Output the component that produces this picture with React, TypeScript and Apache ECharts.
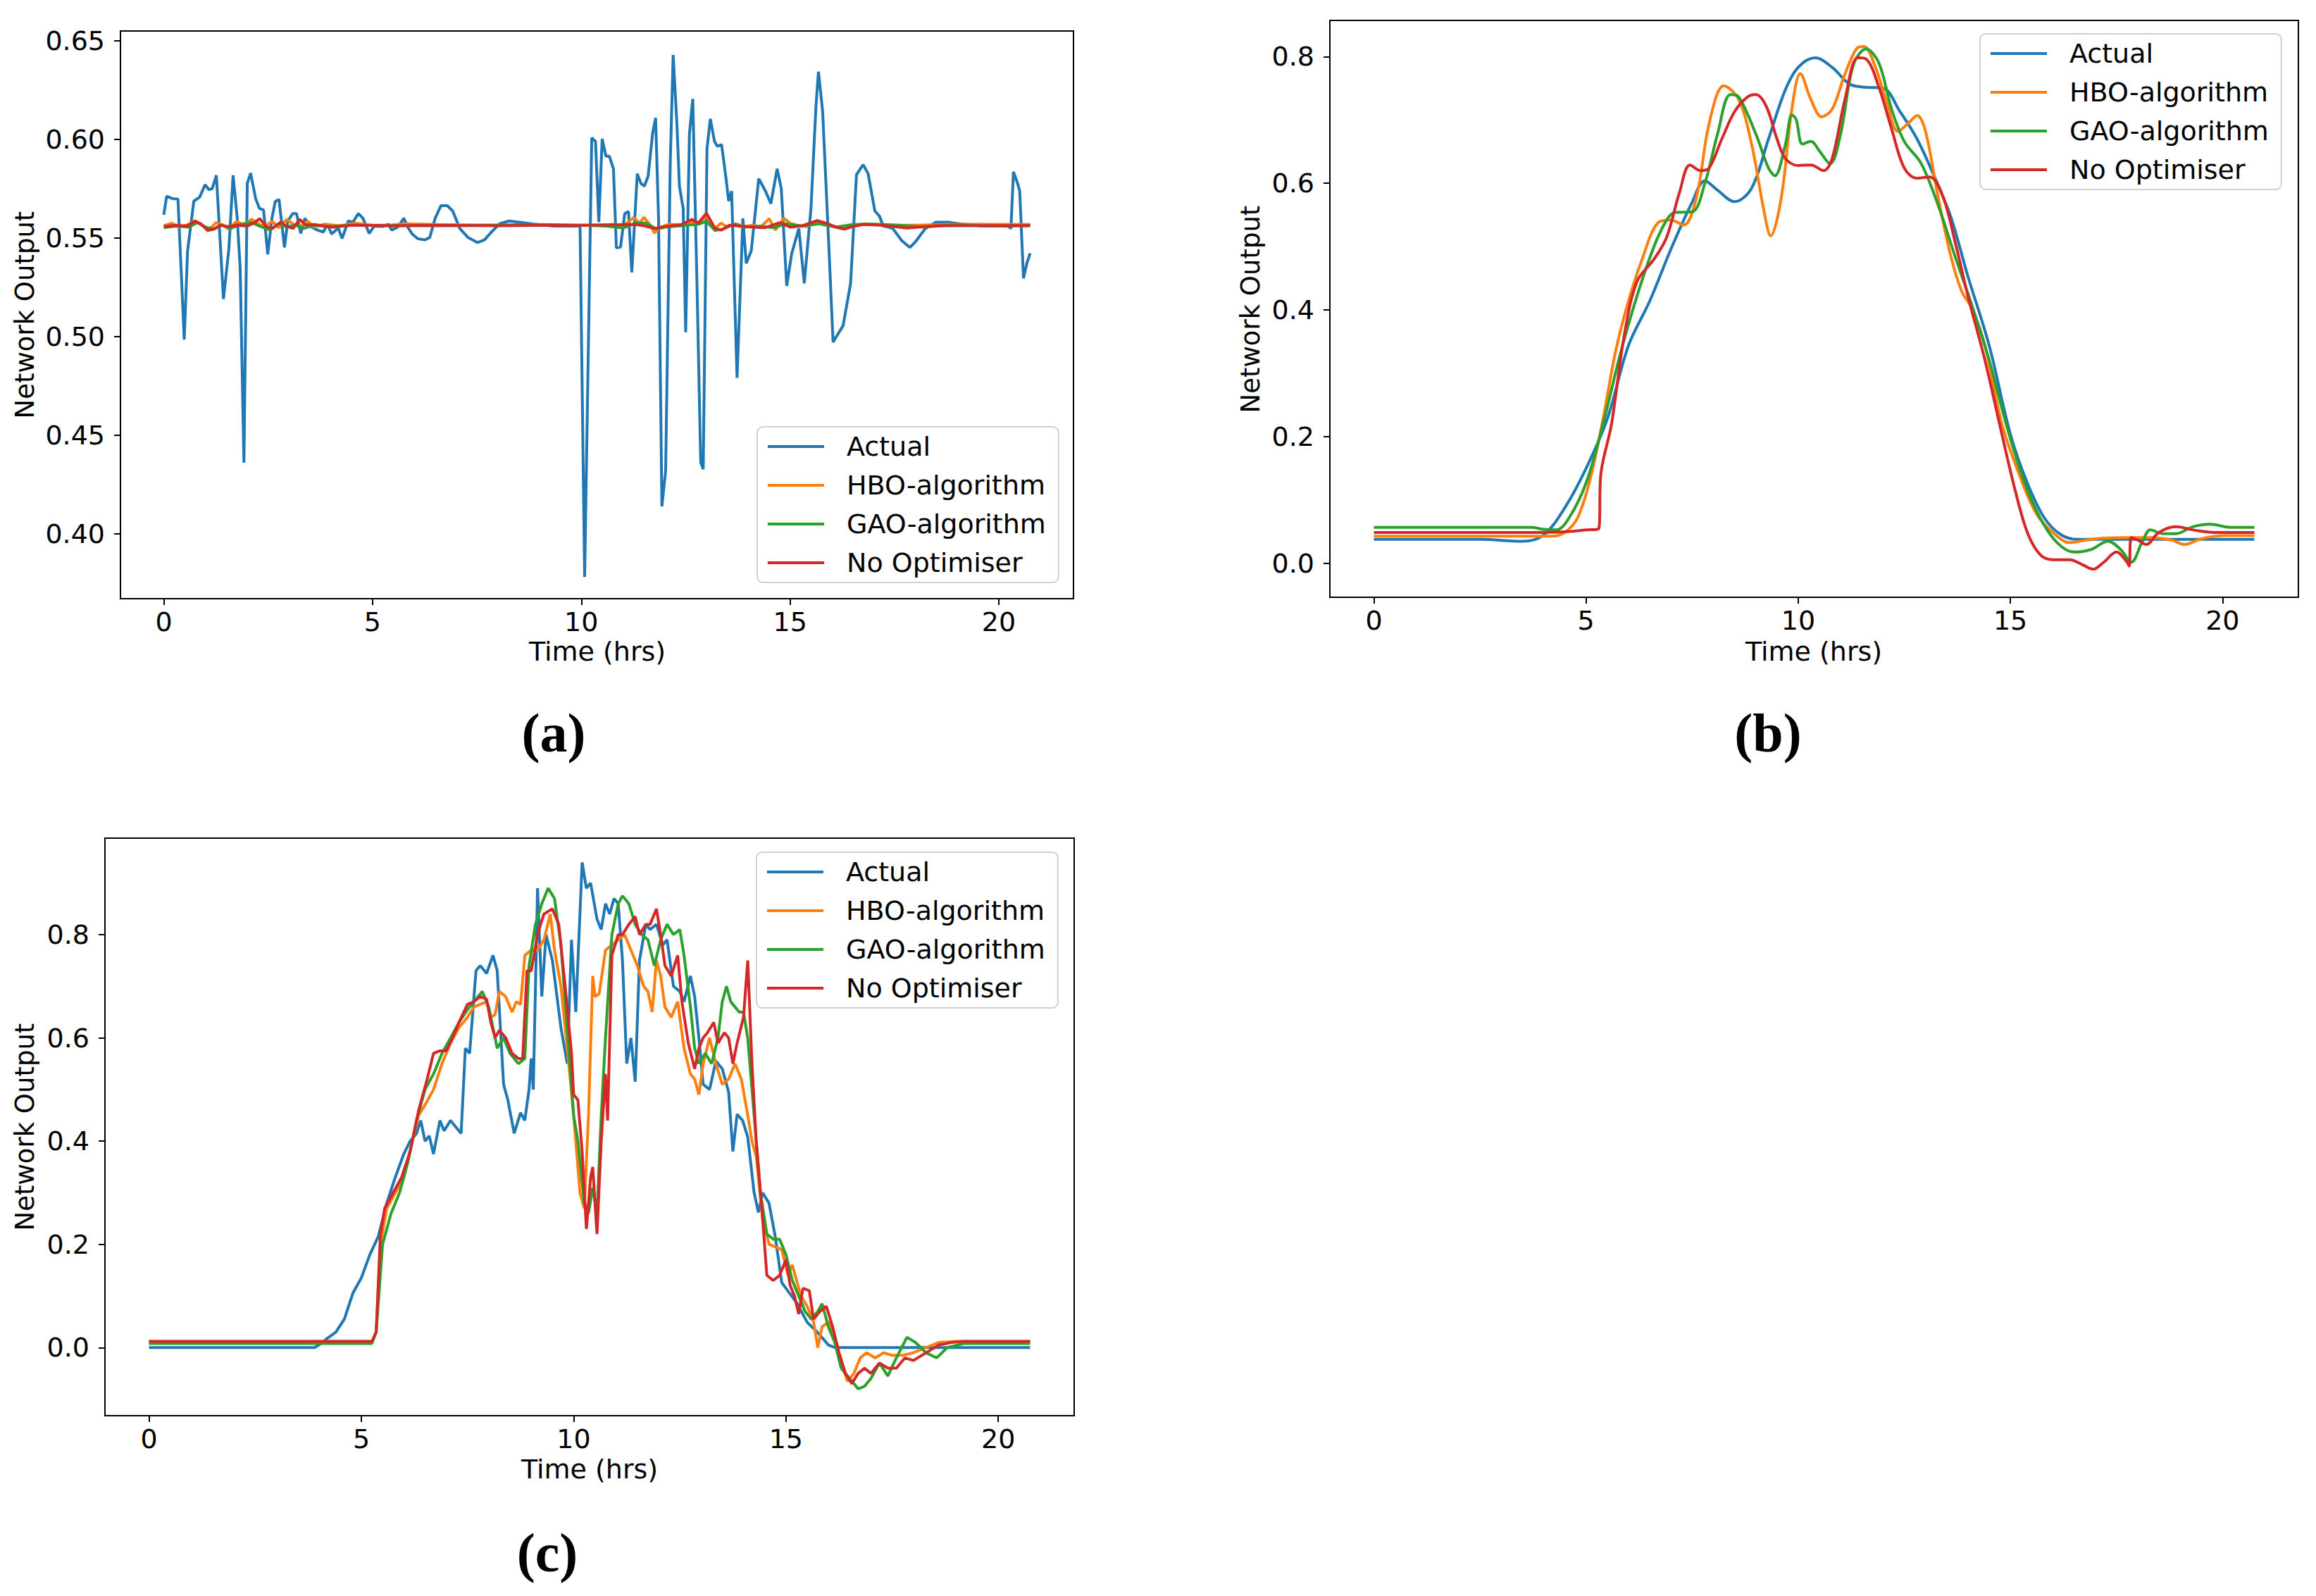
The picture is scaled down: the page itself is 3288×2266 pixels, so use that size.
import React, { useEffect, useRef } from "react";
import * as echarts from "echarts";

// ---------- shared ----------
const seriesNames = ["Actual", "HBO-algorithm", "GAO-algorithm", "No Optimiser"];
const seriesColors = ["#1f77b4", "#ff7f0e", "#2ca02c", "#d62728"];
const xTicks = [0, 5, 10, 15, 20];
const yTicksA = [0.4, 0.45, 0.5, 0.55, 0.6, 0.65];
const yTicksBC = [0, 0.2, 0.4, 0.6, 0.8];
const panelLabels = ["(a)", "(b)", "(c)"];

// ---------- panel (a) [time (hrs), output] ----------
const aActual = [
  [0, 0.5618], [0.07, 0.5712], [0.2, 0.570], [0.34, 0.5697], [0.49, 0.4984], [0.57, 0.5434], [0.72, 0.5687],
  [0.86, 0.5707], [0.99, 0.577], [1.08, 0.5745], [1.16, 0.575], [1.26, 0.5818], [1.43, 0.519], [1.56, 0.5447],
  [1.66, 0.5818], [1.76, 0.56], [1.83, 0.5346], [1.92, 0.436], [2.0, 0.5776], [2.08, 0.5829], [2.2, 0.570],
  [2.29, 0.565], [2.39, 0.5642], [2.49, 0.5417], [2.59, 0.5599], [2.67, 0.5685], [2.76, 0.5695], [2.89, 0.5452],
  [2.97, 0.5586], [3.09, 0.5624], [3.18, 0.5624], [3.28, 0.5523], [3.38, 0.5599], [3.5, 0.556], [3.68, 0.554],
  [3.82, 0.553], [3.92, 0.557], [4.02, 0.552], [4.18, 0.555], [4.27, 0.5497], [4.42, 0.5586], [4.53, 0.558],
  [4.66, 0.5624], [4.77, 0.56], [4.92, 0.5523], [5.04, 0.556], [5.24, 0.5558], [5.38, 0.557], [5.46, 0.554],
  [5.61, 0.5556], [5.75, 0.56], [5.83, 0.556], [5.95, 0.552], [6.08, 0.5497], [6.25, 0.549], [6.37, 0.5502],
  [6.5, 0.56], [6.64, 0.5664], [6.79, 0.5664], [6.92, 0.5637], [7.09, 0.5548], [7.29, 0.5502], [7.51, 0.5477],
  [7.68, 0.549], [7.85, 0.553], [8.05, 0.5573], [8.27, 0.5586], [8.52, 0.558], [8.86, 0.557], [9.36, 0.556],
  [9.78, 0.556], [9.97, 0.556], [10.08, 0.378], [10.25, 0.6008], [10.34, 0.599], [10.42, 0.558], [10.5, 0.6003],
  [10.59, 0.5915], [10.67, 0.5915], [10.77, 0.5851], [10.84, 0.545], [10.94, 0.5454], [11.04, 0.5624],
  [11.13, 0.5634], [11.21, 0.5326], [11.34, 0.5826], [11.43, 0.5776], [11.51, 0.5763], [11.6, 0.5813],
  [11.71, 0.6033], [11.78, 0.6109], [11.85, 0.5599], [11.93, 0.4138], [12.02, 0.432], [12.13, 0.5877],
  [12.2, 0.6428], [12.29, 0.6079], [12.35, 0.5763], [12.44, 0.5649], [12.5, 0.5022], [12.59, 0.6028],
  [12.67, 0.6205], [12.77, 0.527], [12.86, 0.436], [12.92, 0.4327], [13.01, 0.5952], [13.09, 0.6104],
  [13.19, 0.599], [13.26, 0.5965], [13.36, 0.5973], [13.46, 0.5813], [13.53, 0.5687], [13.6, 0.5738],
  [13.73, 0.479], [13.87, 0.5599], [13.95, 0.5371], [14.07, 0.5434], [14.25, 0.5801], [14.41, 0.5738],
  [14.54, 0.5674], [14.69, 0.5851], [14.79, 0.575], [14.92, 0.5257], [15.04, 0.5422], [15.21, 0.5548],
  [15.34, 0.527], [15.5, 0.5649], [15.62, 0.6167], [15.68, 0.6344], [15.78, 0.6142], [15.92, 0.5497],
  [16.03, 0.4972], [16.16, 0.5017], [16.27, 0.5055], [16.45, 0.527], [16.59, 0.5821], [16.75, 0.5872],
  [16.87, 0.5826], [17.03, 0.5637], [17.14, 0.5611], [17.23, 0.556], [17.3, 0.5558], [17.46, 0.5548],
  [17.68, 0.5485], [17.87, 0.5452], [18.02, 0.5485], [18.24, 0.5548], [18.49, 0.558], [18.78, 0.558],
  [19.12, 0.557], [19.62, 0.556], [20.22, 0.556], [20.29, 0.5548], [20.35, 0.5836], [20.45, 0.5776],
  [20.5, 0.5738], [20.59, 0.5295], [20.67, 0.5371], [20.75, 0.5422],
];
const aHBO = [
  [0, 0.5562], [0.2, 0.5575], [0.35, 0.5555], [0.55, 0.5565], [0.75, 0.5588], [0.95, 0.556], [1.1, 0.5545],
  [1.25, 0.5578], [1.4, 0.5568], [1.55, 0.5545], [1.75, 0.5585], [1.9, 0.5565], [2.1, 0.5595], [2.25, 0.5575],
  [2.4, 0.5555], [2.6, 0.5585], [2.75, 0.5552], [2.95, 0.5595], [3.1, 0.557], [3.25, 0.5555], [3.45, 0.5585],
  [3.6, 0.5555], [3.85, 0.557], [4.2, 0.5562], [4.6, 0.5575], [5.0, 0.5565], [5.4, 0.5565], [5.8, 0.5572],
  [6.5, 0.5568], [8, 0.5565], [10.5, 0.5565], [10.8, 0.557], [11.0, 0.556], [11.25, 0.5603], [11.4, 0.5575],
  [11.5, 0.5605], [11.65, 0.5565], [11.75, 0.5525], [11.9, 0.5555], [12.1, 0.557], [12.4, 0.5565],
  [12.6, 0.558], [12.8, 0.5575], [13.0, 0.561], [13.2, 0.555], [13.35, 0.5575], [13.5, 0.5555], [13.7, 0.5572],
  [13.9, 0.5558], [14.1, 0.5565], [14.3, 0.5555], [14.5, 0.5598], [14.65, 0.554], [14.85, 0.56], [15.0, 0.5575],
  [15.15, 0.5565], [15.4, 0.5558], [15.65, 0.5585], [15.85, 0.5575], [16.05, 0.5558], [16.3, 0.5545],
  [16.55, 0.5565], [16.8, 0.5572], [17.2, 0.5565], [18, 0.5565], [19, 0.557], [20.75, 0.5568],
];
const aGAO = [
  [0, 0.5552], [0.3, 0.556], [0.6, 0.5555], [0.8, 0.5578], [1.0, 0.5555], [1.2, 0.5545], [1.4, 0.5565],
  [1.6, 0.5548], [1.85, 0.557], [2.1, 0.5578], [2.3, 0.556], [2.55, 0.554], [2.75, 0.5572], [2.95, 0.5555],
  [3.15, 0.5568], [3.35, 0.5548], [3.6, 0.5565], [3.9, 0.5558], [4.5, 0.5565], [5.5, 0.5562], [7, 0.5562],
  [9, 0.5568], [10, 0.5565], [10.6, 0.556], [11.0, 0.555], [11.3, 0.5575], [11.55, 0.5575], [11.8, 0.5545],
  [12.0, 0.5555], [12.4, 0.5562], [12.8, 0.557], [13.0, 0.5585], [13.2, 0.5538], [13.4, 0.5545],
  [13.65, 0.557], [13.9, 0.5555], [14.3, 0.556], [14.6, 0.5552], [14.9, 0.5572], [15.3, 0.556], [15.7, 0.5572],
  [16.1, 0.5555], [16.5, 0.5568], [17.0, 0.557], [17.6, 0.5565], [18.2, 0.5555], [19.0, 0.5568], [19.8, 0.556],
  [20.75, 0.5562],
];
const aNoOpt = [
  [0, 0.5558], [0.3, 0.5565], [0.55, 0.556], [0.75, 0.5585], [0.9, 0.557], [1.05, 0.5538], [1.2, 0.5545],
  [1.35, 0.5565], [1.55, 0.5558], [1.75, 0.5565], [2.0, 0.556], [2.15, 0.5575], [2.3, 0.5598], [2.45, 0.5558],
  [2.6, 0.5548], [2.8, 0.558], [2.95, 0.5558], [3.1, 0.5548], [3.25, 0.5595], [3.4, 0.5565], [3.6, 0.5568],
  [4.05, 0.5555], [4.5, 0.5565], [5.5, 0.5562], [6.4, 0.5565], [8, 0.5562], [10, 0.5565], [10.9, 0.5567],
  [11.3, 0.5568], [11.5, 0.5562], [11.75, 0.5548], [12.0, 0.5558], [12.4, 0.5568], [12.65, 0.5594],
  [12.8, 0.5575], [13.0, 0.5626], [13.2, 0.5549], [13.35, 0.554], [13.55, 0.5565], [13.8, 0.556],
  [14.1, 0.5555], [14.4, 0.5552], [14.75, 0.5578], [15.0, 0.5555], [15.3, 0.5562], [15.65, 0.5588],
  [15.9, 0.5572], [16.1, 0.5555], [16.3, 0.5545], [16.5, 0.5558], [16.75, 0.5568], [17.2, 0.5565],
  [17.8, 0.555], [18.5, 0.5562], [20.75, 0.5563],
];

// ---------- panel (b) ----------
const bActual = [
  [0, 0.038], [2.5, 0.038], [3.5, 0.035], [4.0, 0.045], [4.5, 0.088], [5.0, 0.15], [5.5, 0.228], [6.0, 0.344],
  [6.5, 0.414], [7.0, 0.496], [7.5, 0.57], [7.8, 0.604], [8.1, 0.589], [8.5, 0.571], [8.9, 0.592], [9.3, 0.67],
  [9.7, 0.748], [10.0, 0.783], [10.4, 0.798], [10.8, 0.783], [11.2, 0.757], [11.5, 0.752], [12.0, 0.75],
  [12.4, 0.713], [12.8, 0.67], [13.2, 0.612], [13.6, 0.546], [14.0, 0.453], [14.5, 0.344], [15.0, 0.204],
  [15.4, 0.127], [15.8, 0.072], [16.2, 0.045], [16.6, 0.038], [20.75, 0.038],
];
const bHBO = [
  [0, 0.043], [4.2, 0.043], [4.5, 0.049], [4.8, 0.072], [5.1, 0.134], [5.4, 0.228], [5.7, 0.336], [6.0, 0.414],
  [6.3, 0.476], [6.7, 0.538], [7.0, 0.542], [7.3, 0.534], [7.6, 0.577], [7.9, 0.694], [8.25, 0.754],
  [8.6, 0.732], [8.9, 0.662], [9.2, 0.554], [9.35, 0.517], [9.6, 0.577], [9.85, 0.717], [10.05, 0.773],
  [10.3, 0.732], [10.55, 0.705], [10.8, 0.717], [11.1, 0.772], [11.4, 0.814], [11.55, 0.816], [11.8, 0.787],
  [12.1, 0.725], [12.35, 0.682], [12.6, 0.695], [12.8, 0.707], [13.0, 0.682], [13.3, 0.577], [13.6, 0.484],
  [13.85, 0.43], [14.1, 0.402], [14.4, 0.344], [14.8, 0.22], [15.2, 0.142], [15.6, 0.08], [16.0, 0.049],
  [16.4, 0.033], [16.8, 0.037], [17.2, 0.04], [17.8, 0.041], [18.3, 0.041], [18.8, 0.037], [19.1, 0.03],
  [19.5, 0.039], [20.0, 0.044], [20.75, 0.044],
];
const bGAO = [
  [0, 0.057], [3.7, 0.057], [4.0, 0.054], [4.3, 0.053], [4.6, 0.072], [5.0, 0.127], [5.4, 0.22], [5.8, 0.329],
  [6.2, 0.422], [6.6, 0.5], [6.9, 0.542], [7.1, 0.554], [7.5, 0.555], [7.8, 0.6], [8.1, 0.678], [8.4, 0.74],
  [8.6, 0.736], [9.0, 0.678], [9.3, 0.624], [9.45, 0.612], [9.7, 0.662], [9.85, 0.708], [9.95, 0.701],
  [10.1, 0.662], [10.3, 0.666], [10.5, 0.651], [10.75, 0.631], [11.0, 0.678], [11.3, 0.787], [11.6, 0.812],
  [11.9, 0.79], [12.2, 0.717], [12.5, 0.666], [12.9, 0.631], [13.3, 0.565], [13.7, 0.484], [14.1, 0.406],
  [14.5, 0.321], [14.9, 0.22], [15.3, 0.134], [15.7, 0.072], [16.1, 0.033], [16.5, 0.018], [16.9, 0.022],
  [17.3, 0.035], [17.6, 0.022], [17.85, 0.002], [18.1, 0.033], [18.3, 0.053], [18.6, 0.047], [18.9, 0.047],
  [19.3, 0.058], [19.7, 0.062], [20.2, 0.057], [20.75, 0.057],
];
const bNoOpt = [
  [0, 0.049], [3.8, 0.049], [4.5, 0.05], [5.0, 0.053], [5.3, 0.055], [5.35, 0.142], [5.6, 0.22], [5.9, 0.36],
  [6.2, 0.445], [6.6, 0.48], [6.9, 0.515], [7.2, 0.585], [7.45, 0.629], [7.7, 0.62], [7.9, 0.624], [8.2, 0.67],
  [8.5, 0.713], [8.8, 0.736], [9.0, 0.74], [9.25, 0.721], [9.5, 0.67], [9.7, 0.639], [10.0, 0.628],
  [10.3, 0.629], [10.6, 0.62], [10.8, 0.639], [11.1, 0.732], [11.4, 0.798], [11.6, 0.796], [11.9, 0.752],
  [12.2, 0.686], [12.5, 0.624], [12.8, 0.608], [13.1, 0.61], [13.4, 0.581], [13.7, 0.507], [14.0, 0.422],
  [14.4, 0.321], [14.8, 0.204], [15.1, 0.119], [15.4, 0.049], [15.7, 0.014], [16.0, 0.006], [16.4, 0.006],
  [16.7, -0.002], [16.95, -0.009], [17.2, 0.002], [17.5, 0.018], [17.75, 0.002], [17.8, -0.004],
  [17.85, 0.041], [18.0, 0.037], [18.2, 0.03], [18.5, 0.049], [18.9, 0.058], [19.3, 0.053], [19.8, 0.049],
  [20.75, 0.049],
];

// ---------- panel (c) ----------
const cActual = [
  [0, 0], [3.9, 0], [4.0, 0.005], [4.2, 0.018], [4.4, 0.03], [4.6, 0.055], [4.8, 0.105], [5.0, 0.135],
  [5.2, 0.18], [5.4, 0.215], [5.6, 0.28], [5.8, 0.33], [6.0, 0.375], [6.15, 0.4], [6.3, 0.415], [6.4, 0.44],
  [6.5, 0.4], [6.6, 0.41], [6.7, 0.375], [6.85, 0.44], [6.95, 0.42], [7.1, 0.44], [7.2, 0.43], [7.35, 0.415],
  [7.45, 0.58], [7.55, 0.57], [7.7, 0.73], [7.8, 0.74], [7.95, 0.725], [8.1, 0.76], [8.2, 0.73], [8.35, 0.51],
  [8.45, 0.48], [8.6, 0.415], [8.75, 0.455], [8.85, 0.44], [8.95, 0.5], [9.0, 0.56], [9.05, 0.5], [9.15, 0.89],
  [9.25, 0.68], [9.35, 0.8], [9.5, 0.75], [9.7, 0.62], [9.85, 0.55], [9.95, 0.79], [10.05, 0.65],
  [10.2, 0.94], [10.3, 0.89], [10.4, 0.9], [10.55, 0.83], [10.65, 0.81], [10.75, 0.86], [10.85, 0.84],
  [10.95, 0.87], [11.05, 0.86], [11.15, 0.75], [11.25, 0.55], [11.35, 0.6], [11.45, 0.515], [11.55, 0.75],
  [11.7, 0.82], [11.8, 0.81], [11.95, 0.82], [12.1, 0.78], [12.2, 0.79], [12.35, 0.7], [12.5, 0.69],
  [12.6, 0.67], [12.75, 0.72], [12.85, 0.68], [12.95, 0.6], [13.05, 0.51], [13.2, 0.5], [13.35, 0.555],
  [13.5, 0.54], [13.65, 0.495], [13.75, 0.38], [13.85, 0.452], [13.98, 0.44], [14.1, 0.408], [14.25, 0.3],
  [14.35, 0.262], [14.45, 0.3], [14.6, 0.28], [14.75, 0.214], [14.9, 0.126], [15.07, 0.107], [15.25, 0.087],
  [15.5, 0.049], [15.75, 0.029], [16.0, 0.005], [16.15, 0], [20.75, 0],
];
const cHBO = [
  [0, 0.012], [5.25, 0.012], [5.35, 0.03], [5.45, 0.2], [5.6, 0.27], [5.8, 0.3], [6.0, 0.33], [6.2, 0.4],
  [6.35, 0.45], [6.5, 0.47], [6.7, 0.5], [6.9, 0.55], [7.1, 0.59], [7.3, 0.62], [7.5, 0.64], [7.65, 0.66],
  [7.8, 0.665], [7.95, 0.67], [8.05, 0.64], [8.15, 0.645], [8.25, 0.69], [8.4, 0.68], [8.55, 0.65],
  [8.65, 0.67], [8.75, 0.665], [8.85, 0.76], [9.0, 0.77], [9.15, 0.77], [9.3, 0.79], [9.45, 0.84], [9.55, 0.77],
  [9.7, 0.7], [9.85, 0.58], [10.0, 0.45], [10.15, 0.3], [10.25, 0.27], [10.35, 0.45], [10.45, 0.72],
  [10.5, 0.68], [10.6, 0.685], [10.75, 0.77], [10.9, 0.78], [11.05, 0.79], [11.2, 0.8], [11.35, 0.77],
  [11.5, 0.74], [11.65, 0.7], [11.75, 0.69], [11.85, 0.65], [11.95, 0.75], [12.05, 0.72], [12.15, 0.66],
  [12.3, 0.64], [12.45, 0.67], [12.6, 0.58], [12.75, 0.53], [12.85, 0.52], [12.95, 0.49], [13.05, 0.55],
  [13.2, 0.6], [13.35, 0.55], [13.5, 0.51], [13.65, 0.52], [13.8, 0.55], [13.95, 0.52], [14.1, 0.45],
  [14.2, 0.4], [14.3, 0.37], [14.45, 0.25], [14.6, 0.2], [14.75, 0.195], [14.9, 0.19], [15.05, 0.14],
  [15.15, 0.16], [15.25, 0.13], [15.35, 0.1], [15.5, 0.08], [15.65, 0.05], [15.75, 0.0], [15.85, 0.04],
  [16.0, 0.05], [16.15, 0.02], [16.3, -0.03], [16.45, -0.065], [16.6, -0.05], [16.75, -0.02], [16.9, -0.01],
  [17.1, -0.02], [17.3, -0.01], [17.5, -0.015], [17.75, -0.015], [18.0, -0.01], [18.3, 0.0], [18.6, 0.01],
  [19.0, 0.012], [20.75, 0.012],
];
const cGAO = [
  [0, 0.008], [5.25, 0.008], [5.35, 0.03], [5.5, 0.2], [5.7, 0.26], [5.9, 0.3], [6.1, 0.36], [6.3, 0.44],
  [6.5, 0.5], [6.7, 0.53], [6.9, 0.57], [7.1, 0.6], [7.3, 0.63], [7.5, 0.655], [7.7, 0.675], [7.85, 0.69],
  [8.0, 0.66], [8.1, 0.62], [8.2, 0.58], [8.35, 0.6], [8.5, 0.57], [8.7, 0.55], [8.85, 0.56], [8.95, 0.74],
  [9.1, 0.82], [9.25, 0.86], [9.4, 0.89], [9.55, 0.87], [9.7, 0.78], [9.85, 0.62], [10.0, 0.45], [10.1, 0.4],
  [10.25, 0.28], [10.35, 0.26], [10.45, 0.31], [10.55, 0.26], [10.65, 0.45], [10.75, 0.6], [10.9, 0.8],
  [11.05, 0.86], [11.15, 0.875], [11.3, 0.86], [11.45, 0.82], [11.6, 0.8], [11.75, 0.79], [11.9, 0.74],
  [12.05, 0.79], [12.2, 0.82], [12.35, 0.8], [12.5, 0.81], [12.6, 0.76], [12.75, 0.66], [12.85, 0.58],
  [12.95, 0.55], [13.1, 0.57], [13.25, 0.55], [13.4, 0.6], [13.5, 0.67], [13.6, 0.7], [13.7, 0.67],
  [13.8, 0.66], [13.9, 0.65], [14.0, 0.65], [14.1, 0.6], [14.25, 0.45], [14.4, 0.3], [14.55, 0.22],
  [14.7, 0.21], [14.85, 0.21], [15.0, 0.18], [15.15, 0.13], [15.3, 0.1], [15.45, 0.07], [15.6, 0.055],
  [15.75, 0.07], [15.85, 0.085], [16.0, 0.04], [16.15, 0.01], [16.3, -0.04], [16.5, -0.06], [16.7, -0.08],
  [16.85, -0.075], [17.0, -0.06], [17.2, -0.03], [17.4, -0.055], [17.6, -0.02], [17.85, 0.02], [18.05, 0.01],
  [18.3, -0.01], [18.55, -0.02], [18.8, 0.0], [19.2, 0.008], [20.75, 0.008],
];
const cNoOpt = [
  [0, 0.012], [5.25, 0.012], [5.35, 0.03], [5.45, 0.22], [5.55, 0.27], [5.75, 0.3], [5.95, 0.33], [6.15, 0.38],
  [6.35, 0.46], [6.55, 0.52], [6.7, 0.57], [6.85, 0.575], [7.0, 0.575], [7.15, 0.6], [7.3, 0.63], [7.5, 0.665],
  [7.65, 0.67], [7.8, 0.68], [7.95, 0.675], [8.05, 0.63], [8.15, 0.6], [8.25, 0.615], [8.4, 0.6], [8.55, 0.57],
  [8.7, 0.56], [8.8, 0.56], [8.9, 0.73], [9.0, 0.73], [9.15, 0.8], [9.3, 0.84], [9.5, 0.85], [9.65, 0.82],
  [9.8, 0.7], [9.95, 0.57], [10.0, 0.49], [10.1, 0.48], [10.2, 0.38], [10.3, 0.23], [10.4, 0.33], [10.45, 0.35],
  [10.55, 0.22], [10.65, 0.4], [10.75, 0.53], [10.8, 0.44], [10.9, 0.76], [11.05, 0.8], [11.15, 0.8],
  [11.3, 0.82], [11.45, 0.835], [11.55, 0.8], [11.7, 0.82], [11.8, 0.82], [11.95, 0.85], [12.05, 0.8],
  [12.15, 0.74], [12.3, 0.72], [12.45, 0.76], [12.55, 0.67], [12.7, 0.59], [12.85, 0.54], [12.95, 0.58],
  [13.05, 0.6], [13.15, 0.61], [13.3, 0.63], [13.4, 0.59], [13.55, 0.61], [13.65, 0.6], [13.75, 0.55],
  [13.85, 0.59], [14.0, 0.64], [14.1, 0.75], [14.2, 0.55], [14.3, 0.4], [14.45, 0.25], [14.55, 0.14],
  [14.7, 0.13], [14.85, 0.14], [15.0, 0.17], [15.1, 0.12], [15.2, 0.1], [15.3, 0.065], [15.4, 0.115],
  [15.55, 0.11], [15.65, 0.055], [15.8, 0.07], [15.95, 0.08], [16.1, 0.04], [16.25, -0.01], [16.4, -0.05],
  [16.55, -0.07], [16.7, -0.05], [16.85, -0.04], [17.0, -0.05], [17.2, -0.03], [17.4, -0.04], [17.6, -0.04],
  [17.8, -0.02], [18.0, -0.025], [18.3, -0.01], [18.6, 0.005], [18.9, 0.01], [19.2, 0.012], [20.75, 0.012],
];

const panelData = [
  [aActual, aHBO, aGAO, aNoOpt],
  [bActual, bHBO, bGAO, bNoOpt],
  [cActual, cHBO, cGAO, cNoOpt],
];

const FONT = "DejaVu Sans";

export default function App() {
  const ref = useRef<HTMLDivElement>(null);

  useEffect(() => {
    if (!ref.current) return;
    const chart = echarts.init(ref.current, null, { renderer: "svg" });

    const grids = [
      { left: 171, top: 44, width: 1353, height: 806 },
      { left: 1888, top: 29, width: 1375, height: 819 },
      { left: 149, top: 1190, width: 1376, height: 820 },
    ];
    const yRanges = [
      [0.367, 0.655],
      [-0.0533, 0.857],
      [-0.132, 0.987],
    ];
    const yTickSets = [yTicksA, yTicksBC, yTicksBC];
    const legendPos = [
      { left: 1075, top: 606 },
      { left: 2811, top: 48 },
      { left: 1074, top: 1210 },
    ];
    const xNamePos = [
      [848, 925],
      [2575, 925],
      [837, 2086],
    ];
    const yNamePos = [
      [35, 447],
      [1775, 439],
      [35, 1600],
    ];
    const panelLabelPos = [
      [786, 1040],
      [2510, 1040],
      [777, 2204],
    ];

    const series: any[] = [];
    panelData.forEach((arrs, p) => {
      arrs.forEach((d, k) => {
        series.push({
          type: "line",
          name: seriesNames[k],
          xAxisIndex: p,
          yAxisIndex: p,
          data: d,
          color: seriesColors[k],
          showSymbol: false,
          symbol: "none",
          smooth: p === 1 ? 0.35 : false,
          lineStyle: { width: 4, color: seriesColors[k] },
          z: 2 + k,
        });
      });
    });

    const graphic: any[] = [];
    for (let p = 0; p < 3; p++) {
      graphic.push({
        type: "text",
        x: xNamePos[p][0],
        y: xNamePos[p][1],
        style: {
          text: "Time (hrs)",
          fontFamily: FONT,
          fontSize: 38,
          fill: "#000",
          align: "center",
          verticalAlign: "middle",
        },
      });
      graphic.push({
        type: "text",
        x: yNamePos[p][0],
        y: yNamePos[p][1],
        rotation: Math.PI / 2,
        style: {
          text: "Network Output",
          fontFamily: FONT,
          fontSize: 37,
          fill: "#000",
          align: "center",
          verticalAlign: "middle",
        },
      });
      graphic.push({
        type: "text",
        x: panelLabelPos[p][0],
        y: panelLabelPos[p][1],
        style: {
          text: panelLabels[p],
          fontFamily: "Liberation Serif",
          fontWeight: "bold",
          fontSize: 78,
          fill: "#000",
          align: "center",
          verticalAlign: "middle",
        },
      });
    }

    const option: any = {
      animation: false,
      backgroundColor: "#fff",
      grid: grids.map((g) => ({
        ...g,
        show: true,
        borderColor: "#000",
        borderWidth: 2,
        backgroundColor: "transparent",
        containLabel: false,
      })),
      xAxis: grids.map((_, p) => ({
        type: "value",
        gridIndex: p,
        position: "bottom",
        min: -1.0375,
        max: 21.7875,
        axisLine: { show: false, onZero: false },
        axisTick: {
          show: true,
          length: 9,
          lineStyle: { color: "#000", width: 2 },
          customValues: xTicks,
        },
        axisLabel: {
          customValues: xTicks,
          fontSize: 38,
          fontFamily: FONT,
          color: "#000",
          margin: 14,
        },
        splitLine: { show: false },
      })),
      yAxis: grids.map((_, p) => ({
        type: "value",
        gridIndex: p,
        position: "left",
        min: yRanges[p][0],
        max: yRanges[p][1],
        axisLine: { show: false, onZero: false },
        axisTick: {
          show: true,
          length: 9,
          lineStyle: { color: "#000", width: 2 },
          customValues: yTickSets[p],
        },
        axisLabel: {
          customValues: yTickSets[p],
          fontSize: 38,
          fontFamily: FONT,
          color: "#000",
          margin: 22,
          formatter: (v: number) => (p === 0 ? v.toFixed(2) : v.toFixed(1)),
        },
        splitLine: { show: false },
      })),
      legend: legendPos.map((lp) => ({
        ...lp,
        orient: "vertical",
        data: seriesNames,
        icon: "rect",
        itemWidth: 80,
        itemHeight: 4,
        itemGap: 15,
        padding: [8, 18, 8, 15],
        backgroundColor: "rgba(255,255,255,0.85)",
        borderColor: "#d0d0d0",
        borderWidth: 2,
        borderRadius: 8,
        selectedMode: false,
        textStyle: {
          fontSize: 38,
          fontFamily: FONT,
          color: "#000",
          lineHeight: 40,
          padding: [0, 0, 0, 27],
        },
      })),
      series,
      graphic,
    };

    chart.setOption(option);
    return () => {
      chart.dispose();
    };
  }, []);

  return (
    <div
      ref={ref}
      style={{ position: "absolute", left: 0, top: 0, width: 3288, height: 2266, background: "#fff" }}
    />
  );
}
